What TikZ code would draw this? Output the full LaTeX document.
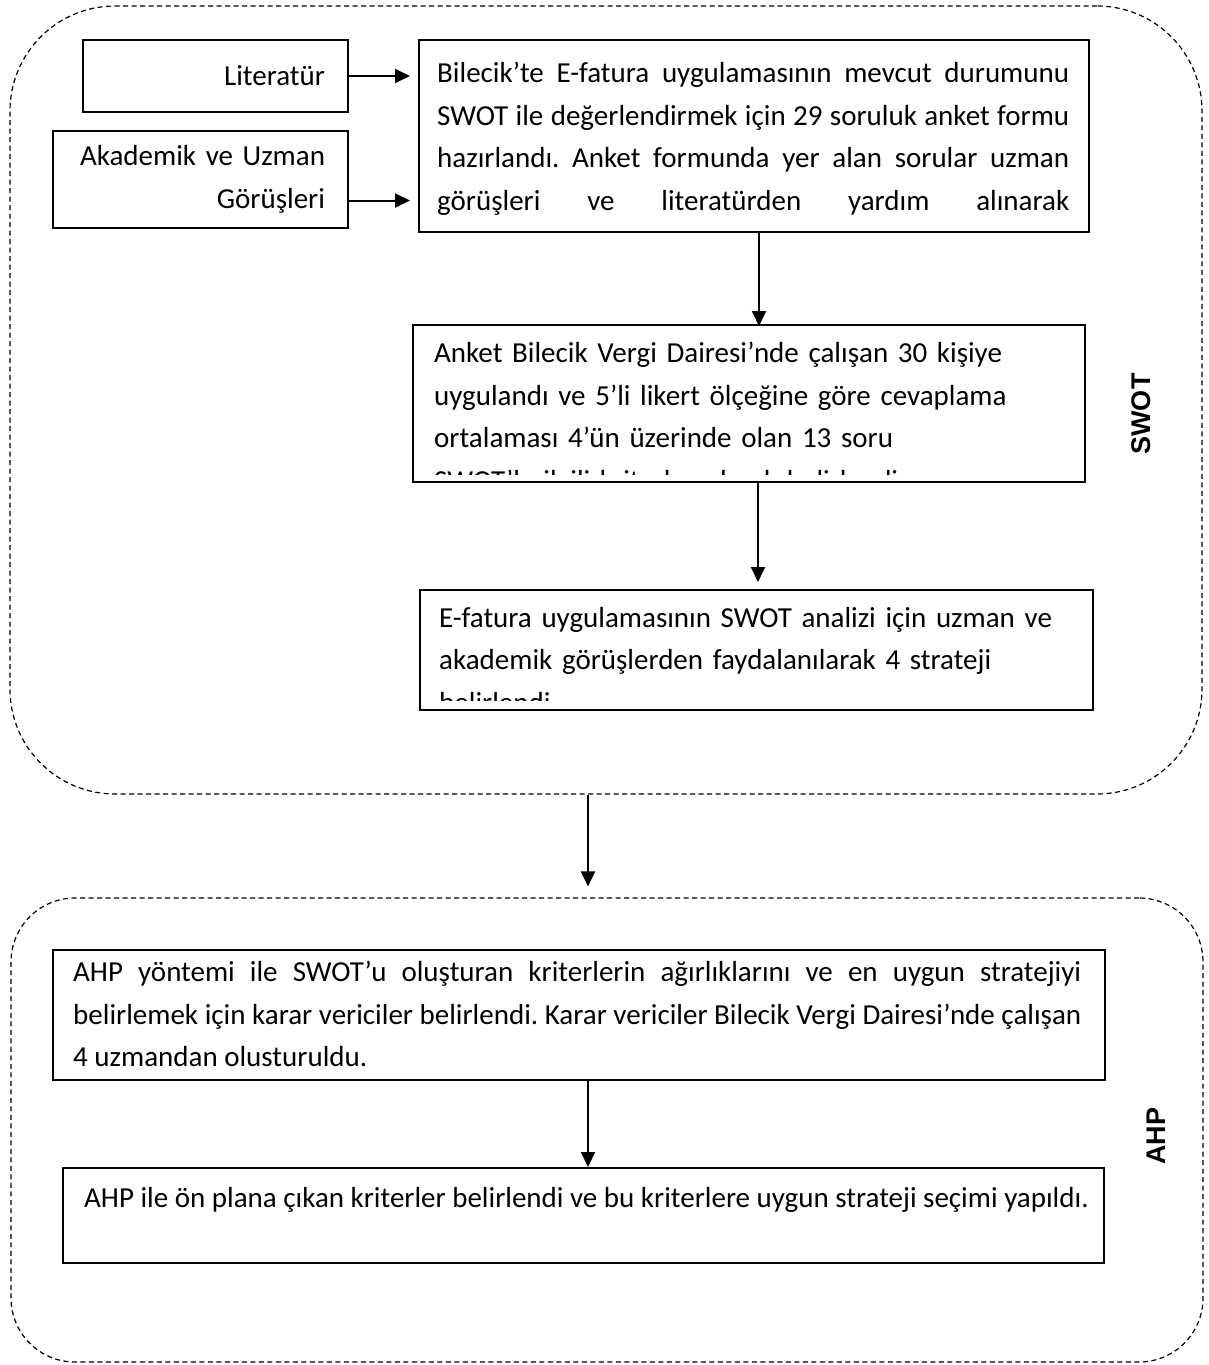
\documentclass[tikz,border=0pt]{standalone}
\usepackage{fontspec}
\setmainfont{Carlito}
\newfontfamily\sidefamily{Liberation Sans}
\usetikzlibrary{arrows.meta,positioning}
\newcommand\flowtext{\frenchspacing\fontsize{29}{42.5}\selectfont}
\newcommand\sidetext{\sidefamily\bfseries\fontsize{27}{30}\selectfont}

\begin{document}
\begin{tikzpicture}[x=1pt,y=-1pt,
    stepbox/.style={draw, line width=2pt, inner sep=0pt},
    phase/.style={draw, line width=1.2pt, dash pattern=on 5pt off 3.5pt, inner sep=0pt},
    arr/.style={line width=2pt, -{Triangle[length=15pt,width=14pt]}},
    flow/.style={inner sep=0pt, font=\flowtext, align=justify, anchor=north west},
    side/.style={inner sep=0pt, font=\sidetext, rotate=90}]

    \useasboundingbox (0,0) rectangle (1208,1365);

    % SWOT phase
    \node[phase, rounded corners=105pt, minimum width=1192pt, minimum height=788pt] (swot) at (606,400) {};
    \node[side] (swotlbl) at (1141,414) {SWOT};

    \node[stepbox, minimum width=265pt, minimum height=72pt, text width=219pt, inner xsep=23pt,
        align=right, font=\flowtext] (lit) at (215.5,76) {Literatür};
    \node[stepbox, minimum width=295pt, minimum height=97pt, text width=249pt, inner xsep=23pt,
        align=right, font=\flowtext] (akd) at (200.5,179.5) {Akademik ve Uzman\\Görüşleri};

    \node[stepbox, minimum width=670pt, minimum height=192pt] (bil) at (754,136) {};
    \node[flow, text width=632pt] (biltxt) at ([xshift=19pt,yshift=-23pt]bil.north west)
        {Bilecik’te E-fatura uygulamasının mevcut durumunu\linebreak
         SWOT ile değerlendirmek için 29 soruluk anket formu\linebreak
         hazırlandı. Anket formunda yer alan sorular uzman\linebreak
         görüşleri ve literatürden yardım alınarak\linebreak\mbox{}};

    \node[stepbox, minimum width=672pt, minimum height=157pt] (ank) at (749,403.5) {};
    \begin{scope}
        \clip ([xshift=2pt,yshift=9pt]ank.south west) rectangle ([xshift=-2pt,yshift=-2pt]ank.north east);
        \node[flow, text width=650pt, align=left] (anktxt) at ([xshift=22pt,yshift=-18pt]ank.north west)
            {Anket Bilecik Vergi Dairesi’nde çalışan 30 kişiye\\
             uygulandı ve 5’li likert ölçeğine göre cevaplama\\
             ortalaması 4’ün üzerinde olan 13 soru\\
             SWOT’la ilgili kriterler olarak belirlendi.};
    \end{scope}

    \node[stepbox, minimum width=673pt, minimum height=120pt] (efa) at (756.5,650) {};
    \begin{scope}
        \clip ([xshift=2pt,yshift=11pt]efa.south west) rectangle ([xshift=-2pt,yshift=-2pt]efa.north east);
        \node[flow, text width=650pt, align=left] (efatxt) at ([xshift=20pt,yshift=-18pt]efa.north west)
            {E-fatura uygulamasının SWOT analizi için uzman ve\\
             akademik görüşlerden faydalanılarak 4 strateji\\
             belirlendi.};
    \end{scope}

    \draw[arr, shorten >=8pt] (lit.east) -- (lit.east -| bil.west);
    \draw[arr, shorten >=8pt] ([yshift=-21pt]akd.east) -- ([yshift=-21pt]akd.east -| bil.west);
    \draw[arr, shorten >=-2pt] ([xshift=5pt]bil.south) -- ([xshift=5pt]bil.south |- ank.north);
    \draw[arr, shorten >=7pt] ([xshift=9pt]ank.south) -- ([xshift=9pt]ank.south |- efa.north);

    % AHP phase
    \node[phase, rounded corners=64pt, minimum width=1192pt, minimum height=464pt] (ahp) at (607,1130) {};
    \node[side] (ahplbl) at (1156,1136) {AHP};

    \node[stepbox, minimum width=1052pt, minimum height=130pt] (kar) at (579,1015) {};
    \node[flow, text width=1008pt] (kartxt) at ([xshift=21pt,yshift=-12pt]kar.north west)
        {AHP yöntemi ile SWOT’u oluşturan kriterlerin ağırlıklarını ve en uygun stratejiyi\linebreak
         belirlemek için karar vericiler belirlendi. Karar vericiler Bilecik Vergi Dairesi’nde çalışan\linebreak
         4 uzmandan olusturuldu.};

    \node[stepbox, minimum width=1041pt, minimum height=95pt] (sec) at (583.5,1215.5) {};
    \node[flow, align=left] (sectxt) at ([xshift=22pt,yshift=-20pt]sec.north west)
        {AHP ile ön plana çıkan kriterler belirlendi ve bu kriterlere uygun strateji seçimi yapıldı.};

    \coordinate (mid) at (588,0);
    \draw[arr, shorten >=11pt] (swot.south -| mid) -- (ahp.north -| mid);
    \draw[arr] (kar.south -| mid) -- (sec.north -| mid);

\end{tikzpicture}
\end{document}
